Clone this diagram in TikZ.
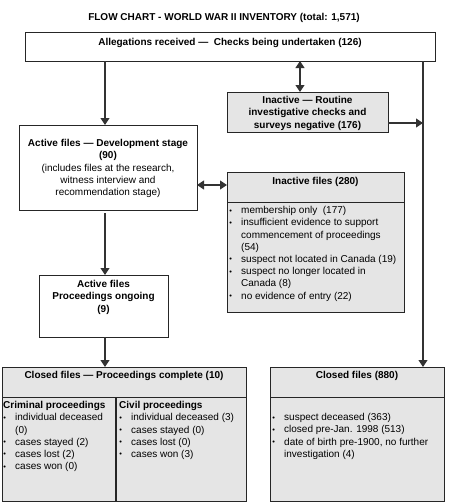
\documentclass[tikz,border=0pt]{standalone}
\usepackage{fontspec}
\setmainfont{Liberation Sans}
\usetikzlibrary{arrows.meta}
\newcommand{\fs}{\fontsize{10}{12.2}\selectfont}
\newcommand{\bl}{\makebox[12pt][l]{\hspace{0.2pt}\raisebox{0.6pt}{\fontsize{7.5}{7.5}\selectfont •}}}
\newcommand{\ind}{\hspace*{12pt}}
\begin{document}
\begin{tikzpicture}[x=1pt,y=-1pt,
 box/.style={draw=black!85, line width=1pt, inner sep=0pt, outer sep=0pt, anchor=north west},
 graybox/.style={box, fill=gray!20},
 txt/.style={inner sep=0pt, font=\fs\bfseries, anchor=north, align=center},
 lst/.style={inner sep=0pt, font=\fs, anchor=north west, align=left},
 arr/.style={draw=black!80, line width=1.1pt, -{Triangle[width=9pt,length=7pt]}},
 darr/.style={draw=black!80, line width=1.1pt, {Triangle[width=9pt,length=7pt]}-{Triangle[width=9pt,length=7pt]}}]
\useasboundingbox (0,0) rectangle (448,504);
% title
\node[txt] (title) at (224,13.3) {FLOW CHART - WORLD WAR II INVENTORY (total: 1,571)};
% boxes
\node[box, minimum width=410pt, minimum height=29pt] (alleg) at (25,32) {};
\node[graybox, minimum width=161pt, minimum height=40pt] (routine) at (227,92) {};
\node[box, minimum width=178pt, minimum height=85pt] (dev) at (19,125) {};
\node[graybox, minimum width=177pt, minimum height=140pt] (inact) at (227,172) {};
\node[box, minimum width=129pt, minimum height=62pt] (ongo) at (39,275) {};
\node[graybox, minimum width=244pt, minimum height=134pt] (closedc) at (2,367) {};
\node[graybox, minimum width=174pt, minimum height=134pt] (closedn) at (270,367) {};
% dividers
\draw[draw=black!85, line width=1pt] (inact.west |- 0,202) -- (inact.east |- 0,202);
\draw[draw=black!85, line width=1pt] (closedc.west |- 0,397) -- (closedc.east |- 0,397);
\draw[draw=black!85, line width=1.7pt] (116,397) -- (closedc.south -| 116,0);
\draw[draw=black!85, line width=1pt] (closedn.west |- 0,397) -- (closedn.east |- 0,397);
% texts
\node[txt] (tallleg) at (230,38) {Allegations received —~ Checks being undertaken (126)};
\node[txt] (troutine) at (307.5,96.3) {Inactive — Routine\\investigative checks and\\surveys negative (176)};
\node[txt] (tdev) at (108,139.3) {Active files — Development stage\\(90)\\\mdseries(includes files at the research,\\\mdseries witness interview and\\\mdseries recommendation stage)};
\node[txt] (tinact) at (315.5,177.3) {Inactive files (280)};
\node[lst] (linact) at (229,206.3) {\bl membership only~ (177)\\
\bl insufficient evidence to support\\
\ind commencement of proceedings\\
\ind (54)\\
\bl suspect not located in Canada (19)\\
\bl suspect no longer located in\\
\ind Canada (8)\\
\bl no evidence of entry (22)};
\node[txt] (tongo) at (103.5,280.3) {Active files\\Proceedings ongoing\\(9)};
\node[txt] (tclosedc) at (124,371.3) {Closed files — Proceedings complete (10)};
\node[lst] (lcrim) at (3,401.3) {\textbf{Criminal proceedings}\\
\bl individual deceased\\
\ind (0)\\
\bl cases stayed (2)\\
\bl cases lost (2)\\
\bl cases won (0)};
\node[lst] (lciv) at (119,401.3) {\textbf{Civil proceedings}\\
\bl individual deceased (3)\\
\bl cases stayed (0)\\
\bl cases lost (0)\\
\bl cases won (3)};
\node[txt] (tclosedn) at (357,371.3) {Closed files (880)};
\node[lst] (lclosedn) at (272,413.3) {\bl suspect deceased (363)\\
\bl closed pre-Jan. 1998 (513)\\
\bl date of birth pre-1900, no further\\
\ind investigation (4)};
% connector coordinates
\coordinate (lx) at (105,0);
\coordinate (mx) at (300,0);
\coordinate (rx) at (423,0);
\coordinate (ry) at (0,123);
\coordinate (dy) at (0,185);
% connectors
\draw[arr] (alleg.south -| lx) -- (dev.north -| lx);
\draw[darr] (alleg.south -| mx) -- (routine.north -| mx);
\draw[arr] (alleg.south -| rx) -- (closedn.north -| rx);
\draw[arr] (routine.east |- ry) -- (rx |- ry);
\draw[darr] (dev.east |- dy) -- (inact.west |- dy);
\draw[arr, shorten <=3pt] (dev.south -| lx) -- (ongo.north -| lx);
\draw[arr] (ongo.south -| lx) -- (closedc.north -| lx);
\end{tikzpicture}
\end{document}
